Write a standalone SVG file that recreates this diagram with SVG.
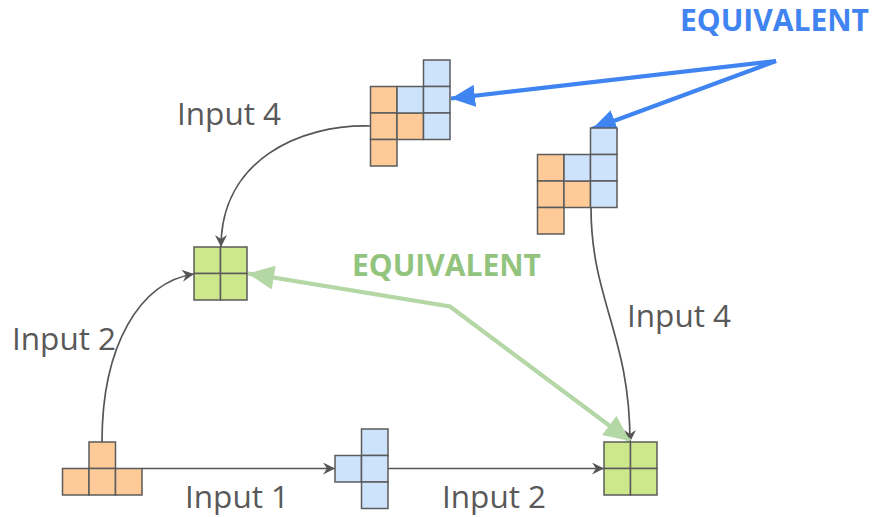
<svg xmlns="http://www.w3.org/2000/svg" width="876" height="517" viewBox="0 0 876 517">
  <style>
    .cell { stroke: #5b5b5b; stroke-width: 1.5; }
    .o { fill: #fecb98; }
    .b { fill: #cce3fb; }
    .g { fill: #cde88b; }
    .lbl { font-family: "Open Sans", "Liberation Sans", sans-serif; font-size: 31.5px; fill: #595959; }
    .eq { font-family: "Open Sans", "Liberation Sans", sans-serif; font-size: 30px; font-weight: bold; }
    .flow { fill: none; stroke: #555555; stroke-width: 1.7; marker-end: url(#arrGray); }
    .blue { fill: none; stroke: #3f84f0; stroke-width: 4.2; marker-end: url(#arrBlue); }
    .green { fill: none; stroke: #b4d7a6; stroke-width: 4.2; marker-start: url(#arrGreenS); marker-end: url(#arrGreen); }
  </style>
  <defs>
    <marker id="arrGray" markerUnits="userSpaceOnUse" markerWidth="14" markerHeight="12" refX="12" refY="6" orient="auto">
      <path d="M0,0 L12,6 L0,12 L4,6 Z" fill="#555555"/>
    </marker>
    <marker id="arrBlue" markerUnits="userSpaceOnUse" markerWidth="26" markerHeight="22" refX="24" refY="11" orient="auto">
      <path d="M0,0 L24,11 L0,22 Z" fill="#3f84f0"/>
    </marker>
    <marker id="arrGreen" markerUnits="userSpaceOnUse" markerWidth="28" markerHeight="24" refX="26" refY="12" orient="auto">
      <path d="M0,0 L26,12 L0,24 Z" fill="#b4d7a6"/>
    </marker>
    <marker id="arrGreenS" markerUnits="userSpaceOnUse" markerWidth="28" markerHeight="24" refX="0" refY="12" orient="auto">
      <path d="M26,0 L0,12 L26,24 Z" fill="#b4d7a6"/>
    </marker>
  </defs>

  <!-- connectors -->
  <g id="connectors">
    <path class="flow" d="M142,468.5 L335,468.5"/>
    <path class="flow" d="M388,468.5 L604,468.5"/>
    <path class="flow" d="M102,442 C102,345 140,282 194,274"/>
    <path class="flow" d="M370.5,126 C300,124 221,160 221,247"/>
    <path class="flow" d="M591,207.5 C591,300 630,335 630,442"/>
    <path class="blue" d="M776,61 L451,98.5"/>
    <path class="blue" d="M776,61 L592,129"/>
    <path class="green" d="M248,273.5 L450,306.5 L630,441"/>
  </g>

  <!-- rotated piece, upper copy -->
  <g id="piece-top">
    <rect class="cell o" x="370.5" y="86.5" width="26.5" height="26.5"/>
    <rect class="cell o" x="370.5" y="113" width="26.5" height="26.5"/>
    <rect class="cell o" x="370.5" y="139.5" width="26.5" height="26.5"/>
    <rect class="cell o" x="397" y="113" width="26.5" height="26.5"/>
    <rect class="cell b" x="397" y="86.5" width="26.5" height="26.5"/>
    <rect class="cell b" x="423.5" y="60" width="26.5" height="26.5"/>
    <rect class="cell b" x="423.5" y="86.5" width="26.5" height="26.5"/>
    <rect class="cell b" x="423.5" y="113" width="26.5" height="26.5"/>
  </g>

  <!-- rotated piece, right copy -->
  <g id="piece-right">
    <rect class="cell o" x="537.5" y="154.5" width="26.5" height="26.5"/>
    <rect class="cell o" x="537.5" y="181" width="26.5" height="26.5"/>
    <rect class="cell o" x="537.5" y="207.5" width="26.5" height="26.5"/>
    <rect class="cell o" x="564" y="181" width="26.5" height="26.5"/>
    <rect class="cell b" x="564" y="154.5" width="26.5" height="26.5"/>
    <rect class="cell b" x="590.5" y="128" width="26.5" height="26.5"/>
    <rect class="cell b" x="590.5" y="154.5" width="26.5" height="26.5"/>
    <rect class="cell b" x="590.5" y="181" width="26.5" height="26.5"/>
  </g>

  <!-- orange T -->
  <g id="piece-t">
    <rect class="cell o" x="89" y="442" width="26.5" height="26.5"/>
    <rect class="cell o" x="62.5" y="468.5" width="26.5" height="26.5"/>
    <rect class="cell o" x="89" y="468.5" width="26.5" height="26.5"/>
    <rect class="cell o" x="115.5" y="468.5" width="26.5" height="26.5"/>
  </g>

  <!-- blue T -->
  <g id="piece-blue">
    <rect class="cell b" x="335" y="455.5" width="26.5" height="26.5"/>
    <rect class="cell b" x="361.5" y="429" width="26.5" height="26.5"/>
    <rect class="cell b" x="361.5" y="455.5" width="26.5" height="26.5"/>
    <rect class="cell b" x="361.5" y="482" width="26.5" height="26.5"/>
  </g>

  <!-- green squares -->
  <g id="square-left">
    <rect class="cell g" x="194" y="247" width="26.5" height="26.5"/>
    <rect class="cell g" x="220.5" y="247" width="26.5" height="26.5"/>
    <rect class="cell g" x="194" y="273.5" width="26.5" height="26.5"/>
    <rect class="cell g" x="220.5" y="273.5" width="26.5" height="26.5"/>
  </g>
  <g id="square-right">
    <rect class="cell g" x="604" y="442" width="26.5" height="26.5"/>
    <rect class="cell g" x="630.5" y="442" width="26.5" height="26.5"/>
    <rect class="cell g" x="604" y="468.5" width="26.5" height="26.5"/>
    <rect class="cell g" x="630.5" y="468.5" width="26.5" height="26.5"/>
  </g>

  <!-- labels -->
  <g id="labels">
    <text class="lbl" x="177" y="124.5">Input 4</text>
    <text class="lbl" x="12" y="350">Input 2</text>
    <text class="lbl" x="627" y="327">Input 4</text>
    <text class="lbl" x="185" y="508">Input 1</text>
    <text class="lbl" x="442" y="508">Input 2</text>
    <text class="eq" x="680" y="31" fill="#3f84f0">EQUIVALENT</text>
    <text class="eq" x="352" y="276" fill="#93c47d">EQUIVALENT</text>
  </g>
</svg>
